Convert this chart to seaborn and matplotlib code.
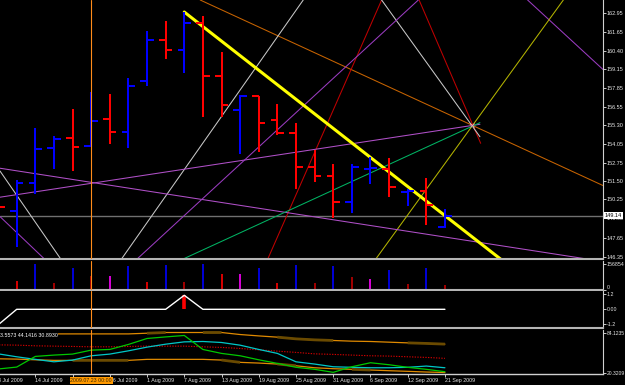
import numpy as np
import pandas as pd
import matplotlib
matplotlib.use("Agg")
import matplotlib.pyplot as plt
import matplotlib.transforms as mtransforms
import seaborn as sns

# ---------------- data ----------------
bars = list(range(-1, 24))
open_ = [150.50, 149.48, 151.39, 153.74, 154.44, 153.88, 155.72, 154.85, 158.33, 161.11,
         160.45, 162.31, 158.67, 156.35, 157.29, 155.65, 154.78, 152.49, 151.83, 150.10,
         152.33, 152.33, 150.73, 150.85, 148.39]
high = [151.50, 151.58, 155.11, 154.58, 156.42, 157.56, 157.42, 158.52, 161.72, 162.40,
        163.04, 162.77, 160.33, 157.40, 157.32, 156.74, 155.47, 153.63, 152.65, 152.65,
        153.13, 153.06, 150.94, 151.72, 149.58]
low = [148.50, 147.03, 150.62, 152.31, 152.19, 153.85, 154.03, 153.78, 158.01, 159.85,
       158.90, 155.88, 155.90, 153.37, 153.51, 154.65, 150.99, 151.46, 148.97, 149.35,
       151.29, 150.40, 149.81, 148.51, 148.30]
close = [149.74, 151.39, 153.67, 154.36, 153.85, 155.58, 154.85, 157.97, 161.11, 160.45,
         162.27, 158.69, 156.67, 157.29, 155.45, 154.78, 152.49, 151.83, 150.10, 152.45,
         152.42, 151.08, 150.86, 149.85, 149.14]

volume = [60000, 53660, 156854, 43340, 136210, 84620, 86680, 142410, 49530, 150660,
          49530, 156000, 97000, 94940, 132090, 43340, 150660, 43340, 144470, 78430,
          63980, 123830, 37150, 132090, 30960]
volume_state = ["down", "down", "up", "weak", "up", "weak", "flat", "up", "down", "up",
                "weak", "up", "down", "flat", "up", "down", "up", "weak", "up", "weak",
                "flat", "up", "weak", "up", "weak"]

signal = [-1.25, 0, 0, 0, 0, 0, 0, 0, 0, 0, 1.12, 0, 0, 0, 0, 0, 0, 0, 0, 0, 0, 0, 0, 0, 0]
signal_hist = [0, 0, 0, 0, 0, 0, 0, 0, 0, 0, 1.12, 0, 0, 0, 0, 0, 0, 0, 0, 0, 0, 0, 0, 0, 0]

osc_green = [25.9, 29.0, 46.0, 48.1, 49.7, 56.0, 57.1, 65.1, 74.6, 77.1, 79.4, 57.1, 50.8,
             47.0, 40.6, 34.9, 28.6, 25.4, 20.6, 29.5, 35.9, 32.7, 28.6, 25.4, 21.6]
osc_cyan = [50.1, 45.4, 41.3, 37.4, 40.1, 47.0, 49.7, 54.9, 60.8, 65.5, 69.2, 69.8, 68.2,
            63.9, 57.1, 50.8, 37.4, 33.8, 29.5, 28.6, 27.9, 27.9, 28.6, 30.6, 27.9]
osc_signal = [64.4, 64.0, 62.9, 62.4, 61.9, 61.3, 61.3, 61.9, 62.4, 62.4, 62.4, 61.3, 60.3,
              58.7, 56.5, 54.4, 52.4, 50.1, 49.2, 48.1, 47.0, 46.5, 45.4, 44.4, 42.9]
osc_upper = [81.9, 81.9, 81.9, 81.9, 81.9, 81.9, 81.9, 81.9, 83.0, 84.12, 84.12, 84.12, 84.12,
             80.9, 78.7, 76.7, 74.0, 72.4, 71.4, 70.3, 69.8, 68.7, 67.6, 66.7, 65.6]
osc_lower = [42.2, 41.7, 40.6, 39.7, 39.7, 39.7, 39.7, 39.7, 41.3, 41.3, 41.3, 41.3, 40.2,
             36.5, 35.4, 33.8, 31.1, 27.9, 26.4, 25.4, 24.3, 23.2, 22.2, 21.1, 20.32]
# darker overlay stretches of the band lines (NaN where not drawn)
nan = np.nan
osc_upper_dark = [nan, 81.9, 81.9, nan, nan, nan, nan, nan, 83.0, 84.12, nan, 84.12, 84.12,
                  nan, nan, 76.7, 74.0, 72.4, 71.4, nan, nan, nan, 67.6, 66.7, 65.6]
osc_lower_dark = [nan, nan, nan, nan, 39.7, 39.7, 39.7, 39.7, nan, nan, nan, nan, 40.2,
                  36.5, nan, 33.8, 31.1, nan, nan, 25.4, 24.3, nan, nan, nan, nan]

price_ticks = [162.95, 161.65, 160.40, 159.15, 157.85, 156.55, 155.30, 154.05, 152.75,
               151.50, 150.25, 148.95, 147.65, 146.35]
vol_ticks = [0, 156854]
vol_tick_labels = ["0", "156854"]
sig_ticks = [-1.2, 0.0, 1.2]
sig_tick_labels = ["-1.2", "0.00", "1.2"]
osc_ticks = [20.3209, 84.1235]
osc_tick_labels = ["20.3209", "84.1235"]
date_tick_bars = [-1, 1, 3, 5, 7, 9, 11, 13, 15, 17, 19, 21, 23]
date_labels = ["8 Jul 2009", "14 Jul 2009", "20 Jul 2009", "26 Jul 2009", "1 Aug 2009",
               "7 Aug 2009", "13 Aug 2009", "19 Aug 2009", "25 Aug 2009", "31 Aug 2009",
               "6 Sep 2009", "12 Sep 2009", "21 Sep 2009"]
cursor_bar = 4
cursor_label = "2009.07.23 00:00"
osc_header = "3.5573 44.1416 30.8930"

# trendline anchors: (bar index, price)
yellow_main = [(9.0, 163.04), (28.8, 143.39)]           # segment
orange_fan = [(9.855, 163.86), (31.42, 151.24)]          # infinite
purple_topright = [(27.44, 163.86), (31.42, 159.20)]     # infinite
yellow_thin = [(19.33, 146.26), (29.36, 163.86)]         # infinite
red_left = [(19.60, 163.86), (13.51, 146.26)]            # infinite
red_right = [(21.16, 165.20), (24.92, 154.08)]           # segment
white_right = [(18.83, 165.22), (24.88, 154.53)]         # segment
white_long = [(15.39, 163.86), (5.67, 146.26)]           # infinite
white_left = [(-0.897, 152.19), (2.325, 146.26)]         # infinite
purple_down = [(-0.897, 152.38), (30.25, 146.26)]        # infinite
purple_up = [(-2.0, 150.19), (24.88, 155.38)]            # segment
purple_left = [(-0.897, 149.08), (1.429, 146.26)]        # infinite
purple_steep = [(6.53, 146.26), (21.57, 163.86)]         # infinite
green_line = [(4.15, 143.39), (24.88, 155.49)]           # segment
pivot_point = (24.45, 155.33)

# ---------------- style ----------------
sns.set_theme(style="dark", rc={"axes.facecolor": "black", "figure.facecolor": "black",
                                "axes.grid": False})
plt.rcParams['font.family'] = ['Liberation Sans', 'DejaVu Sans']

W, H = 625, 385
AXR = 603
XLIM = (-0.897, 31.49)
fig = plt.figure(figsize=(W / 100, H / 100), dpi=100)
fig.patch.set_facecolor("black")


def make_axes(top, bottom, labelsize=4.0):
    ax = fig.add_axes([0, (H - bottom) / H, AXR / W, (bottom - top) / H])
    ax.set_facecolor("black")
    ax.grid(False)
    for s in ["left", "top"]:
        ax.spines[s].set_visible(False)
    ax.spines["right"].set_color("#d0d0d0")
    ax.spines["right"].set_linewidth(0.8)
    ax.spines["bottom"].set_color("#b4b4b4")
    ax.spines["bottom"].set_linewidth(1.5)
    ax.yaxis.tick_right()
    ax.tick_params(axis="y", colors="#e8e8e8", labelsize=labelsize, length=2, width=0.6,
                   pad=0.8, direction="out")
    ax.tick_params(axis="x", bottom=False, labelbottom=False)
    ax.set_xlim(*XLIM)
    return ax


ax_main = make_axes(0, 258.5)
ax_vol = make_axes(260.5, 289.8, 3.8)
ax_sig = make_axes(291.2, 328.2, 3.8)
ax_osc = make_axes(329.7, 373.5, 3.6)

bx = np.array(bars, dtype=float)
UP, DN = "#0000ff", "#ff0000"
cols = [UP if c >= o else DN for o, c in zip(open_, close)]

# ---- main panel ----
ax_main.axhline(close[-1], color="#707070", lw=1.0, zorder=1)

def seg(ax, pts, color, lw=0.75):
    (x1, y1), (x2, y2) = pts
    ax.plot([x1, x2], [y1, y2], color=color, lw=lw, zorder=2)

def inf(ax, pts, color, lw=0.75):
    ax.axline(pts[0], pts[1], color=color, lw=lw, zorder=2)

inf(ax_main, orange_fan, "#c86400")
inf(ax_main, purple_topright, "#9a3cc0")
inf(ax_main, yellow_thin, "#b4b400")
inf(ax_main, red_left, "#c00000")
seg(ax_main, red_right, "#c00000")
seg(ax_main, white_right, "#c8c8c8")
inf(ax_main, white_long, "#c8c8c8")
inf(ax_main, white_left, "#c8c8c8")
inf(ax_main, purple_down, "#b050c8")
seg(ax_main, purple_up, "#b050c8")
inf(ax_main, purple_left, "#9a3cc0")
inf(ax_main, purple_steep, "#9a3cc0")
seg(ax_main, green_line, "#00b464")
ax_main.plot([pivot_point[0]], [pivot_point[1]], marker="x", ms=3, mew=0.6,
             color="#ff9aa0", zorder=3)

ax_main.vlines(bx, low, high, colors=cols, lw=1.3, zorder=3, antialiased=False)
ax_main.hlines(open_, bx - 0.36, bx, colors=cols, lw=1.3, zorder=3, antialiased=False)
ax_main.hlines(close, bx, bx + 0.36, colors=cols, lw=1.3, zorder=3, antialiased=False)

seg(ax_main, yellow_main, "#ffff00", lw=2.2)
ax_main.set_ylim(146.22, 163.86)
ax_main.set_yticks(price_ticks)
ax_main.set_yticklabels([f"{p:.2f}" for p in price_ticks])
ax_main.text(1.0 + 1.5 / AXR, close[-1], f"{close[-1]:.2f}",
             transform=mtransforms.blended_transform_factory(ax_main.transAxes, ax_main.transData),
             ha="left", va="center", fontsize=4.0, color="black", zorder=10,
             bbox=dict(facecolor="white", edgecolor="none", pad=0.6))

# ---- volume panel ----
vol_palette = {"up": "#0000ff", "down": "#ff0000", "weak": "#c00000", "flat": "#ff00ff"}
ax_vol.vlines(bx, 0, volume, colors=[vol_palette[s] for s in volume_state], lw=1.2)
ax_vol.set_ylim(0, 179000)
ax_vol.set_yticks(vol_ticks)
ax_vol.set_yticklabels(vol_tick_labels)
ax_vol.get_yticklabels()[0].set_va("bottom")

# ---- signal panel ----
ax_sig.vlines(bx, 0, signal_hist, colors="#ff0000", lw=2.6)
sig_df = pd.DataFrame({"bar": bars, "value": signal})
sns.lineplot(data=sig_df, x="bar", y="value", ax=ax_sig, color="white", lw=1.0)
ax_sig.set_ylim(-1.512, 1.448)
ax_sig.set_yticks(sig_ticks)
ax_sig.set_yticklabels(sig_tick_labels)

# ---- oscillator panel ----
osc_df = pd.DataFrame({"bar": bars, "green": osc_green, "cyan": osc_cyan,
                       "signal": osc_signal, "upper": osc_upper, "lower": osc_lower})
sns.lineplot(data=osc_df, x="bar", y="upper", ax=ax_osc, color="#e08a00", lw=0.9)
sns.lineplot(data=osc_df, x="bar", y="lower", ax=ax_osc, color="#e08a00", lw=0.9)
ax_osc.plot(bx, osc_upper_dark, color="#6a4a00", lw=2.0, solid_capstyle="butt")
ax_osc.plot(bx, osc_lower_dark, color="#6a4a00", lw=2.0, solid_capstyle="butt")
sns.lineplot(data=osc_df, x="bar", y="signal", ax=ax_osc, color="#d00000", lw=0.8,
             linestyle=(0, (1.2, 1.2)))
sns.lineplot(data=osc_df, x="bar", y="cyan", ax=ax_osc, color="#00c8c8", lw=0.9)
sns.lineplot(data=osc_df, x="bar", y="green", ax=ax_osc, color="#00c800", lw=0.9)
ax_osc.set_ylim(18.74, 88.6)
ax_osc.set_yticks(osc_ticks)
ax_osc.set_yticklabels(osc_tick_labels)
ax_osc.text(0.0, 0.87, osc_header, transform=ax_osc.transAxes, ha="left", va="center",
            fontsize=3.8, color="white", zorder=10,
            bbox=dict(facecolor="black", edgecolor="none", pad=0.3))

# ---- date axis ----
ax_osc.spines["bottom"].set_color("#d0d0d0")
ax_osc.spines["bottom"].set_linewidth(1.0)
in_view = [(b, t) for b, t in zip(date_tick_bars, date_labels) if b >= XLIM[0]]
out_view = [(b, t) for b, t in zip(date_tick_bars, date_labels) if b < XLIM[0]]
ax_osc.set_xticks([b for b, _ in in_view])
ax_osc.set_xticklabels([t for _, t in in_view], ha="left")
ax_osc.tick_params(axis="x", bottom=True, labelbottom=True, colors="#e8e8e8",
                   labelsize=3.8, length=2, width=0.6, pad=1.5, direction="out")
date_tr = mtransforms.blended_transform_factory(ax_osc.transData, fig.transFigure)
for b, t in out_view:
    ax_osc.text(b, (H - 380.2) / H, t, transform=date_tr, ha="left", va="center",
                fontsize=3.8, color="#e8e8e8", clip_on=False)
ax_osc.text(cursor_bar, (H - 380.5) / H, cursor_label, transform=date_tr,
            ha="center", va="center", fontsize=3.8, color="#3a2600", zorder=10,
            bbox=dict(facecolor="#ff9900", edgecolor="none", pad=0.6))

for ax in (ax_main, ax_vol, ax_sig, ax_osc):
    ax.axvline(cursor_bar, color="#ff8c1a", lw=0.8, zorder=4)
    ax.set_xlim(*XLIM)
    ax.set_xlabel("")
    ax.set_ylabel("")

fig.savefig("out.png", dpi=100, facecolor="black")
